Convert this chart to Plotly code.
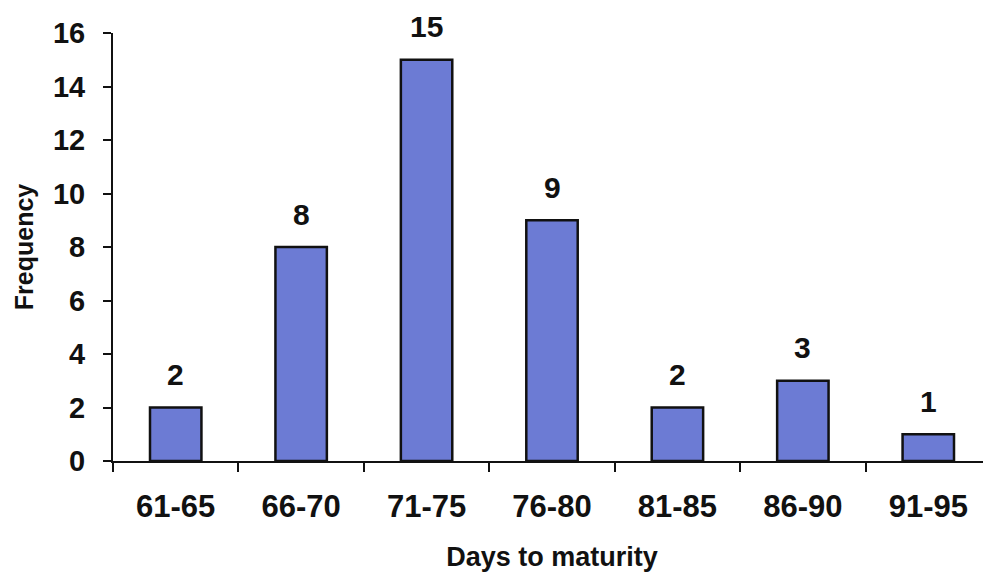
import plotly.graph_objects as go

categories = ["61-65", "66-70", "71-75", "76-80", "81-85", "86-90", "91-95"]
frequency = [2, 8, 15, 9, 2, 3, 1]
y_ticks = [0, 2, 4, 6, 8, 10, 12, 14, 16]

FONT = "Liberation Sans, Arial, sans-serif"
BAR_COLOR = "#6c7bd4"
INK = "#111111"

fig = go.Figure()
fig.add_trace(go.Bar(
    x=categories, y=frequency, width=0.41,
    marker=dict(color=BAR_COLOR, line=dict(color=INK, width=2.5)),
    hoverinfo="x+y",
))

for c, v in zip(categories, frequency):
    fig.add_annotation(x=c, y=v, text=str(v), showarrow=False,
                       yanchor="middle", yshift=33,
                       font=dict(family=FONT, size=30, color=INK, weight="bold"))

# page body has an 8px margin, so the figure is sized/offset to land on the 991x576 viewport
fig.update_layout(
    width=983, height=568,
    margin=dict(l=105, r=0, t=25, b=115),
    paper_bgcolor="white", plot_bgcolor="white",
    showlegend=False,
    font=dict(family=FONT, color=INK),
)
fig.update_xaxes(
    type="category", tickson="boundaries", automargin=False,
    showline=True, linecolor=INK, linewidth=2,
    ticks="outside", ticklen=9, tickwidth=2, tickcolor=INK,
    showgrid=False, zeroline=False,
    tickfont=dict(family=FONT, size=31, color=INK, weight="bold"),
    ticklabelstandoff=17,
    title=dict(text="Days to maturity", font=dict(family=FONT, size=27, color=INK, weight="bold"), standoff=24),
    range=[-0.5, 6.5],
)
fig.update_yaxes(
    range=[0, 16], tickvals=y_ticks, automargin=False,
    showline=True, linecolor=INK, linewidth=2,
    ticks="outside", ticklen=8, tickwidth=2, tickcolor=INK,
    showgrid=False, zeroline=False,
    tickfont=dict(family=FONT, size=29, color=INK, weight="bold"),
    ticklabelstandoff=12,
    title=dict(text="Frequency", font=dict(family=FONT, size=25, color=INK, weight="bold"), standoff=12),
)

fig.write_html("out.html")
